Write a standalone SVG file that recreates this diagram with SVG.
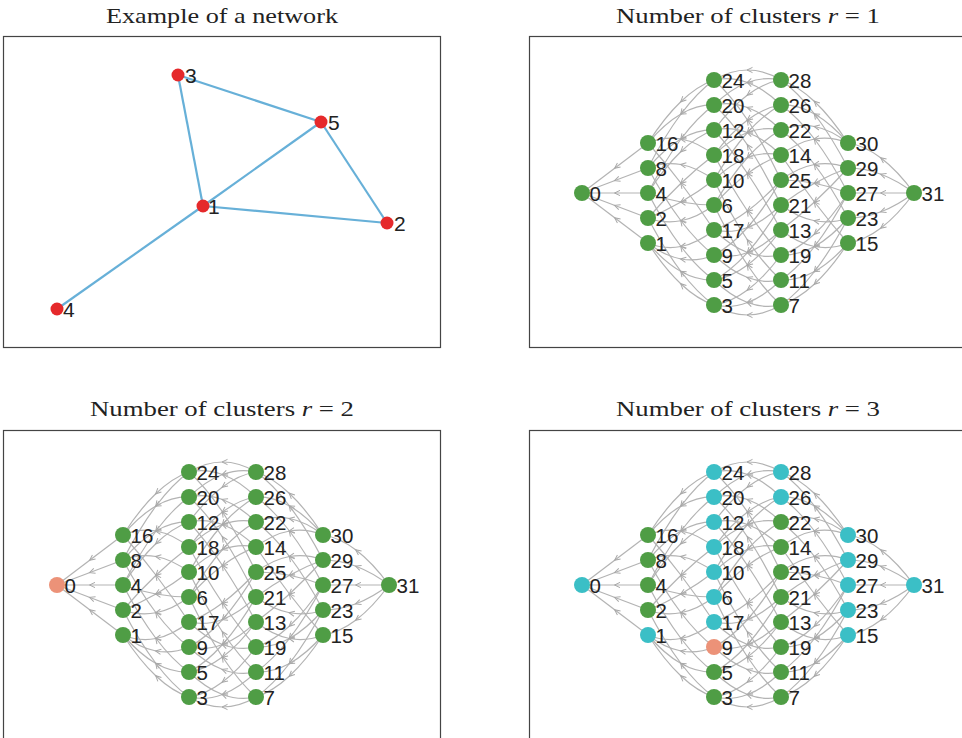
<svg xmlns="http://www.w3.org/2000/svg" xmlns:xlink="http://www.w3.org/1999/xlink" width="962" height="738" viewBox="0 0 962 738">
<style>
.title{font-family:"Liberation Serif","Times New Roman",serif;font-size:22px;fill:#222}
.frame{fill:none;stroke:#444;stroke-width:1.2}
.e{fill:none;stroke:#b3b3b3;stroke-width:1.2;marker-mid:url(#arr)}
.pe{fill:none;stroke:#67b0d8;stroke-width:2.2}
.lbl{font-family:"Liberation Sans",Arial,sans-serif;font-size:20.5px;fill:#222}
.lbl1{font-family:"Liberation Sans",Arial,sans-serif;font-size:21px;fill:#222}
.g{fill:#4f9d45}
.c{fill:#3bbfc6}
.s{fill:#ec9278}
.r{fill:#e5292b}
</style>
<defs>
<marker id="arr" viewBox="-7 -5 10 10" refX="0" refY="0" markerWidth="10" markerHeight="10" markerUnits="userSpaceOnUse" orient="auto">
<path d="M-5,-2.6 L0.5,0 L-5,2.6" fill="none" stroke="#a8a8a8" stroke-width="1"/>
</marker>
<g id="hc">
<path class="e" d="M648,143 L615,168 L582,193"/>
<path class="e" d="M648,168 L615,180.5 L582,193"/>
<path class="e" d="M648,193 L615,193 L582,193"/>
<path class="e" d="M648,218 L615,205.5 L582,193"/>
<path class="e" d="M648,243 L615,218 L582,193"/>
<path class="e" d="M714,80 Q697.5,85.75 681,101.5 T648,143"/>
<path class="e" d="M714,80 Q697.5,92 681,114 T648,168"/>
<path class="e" d="M714,105 Q697.5,104.5 681,114 T648,143"/>
<path class="e" d="M714,105 Q697.5,117 681,139 T648,193"/>
<path class="e" d="M714,130 Q697.5,129.5 681,139 T648,168"/>
<path class="e" d="M714,130 Q697.5,135.75 681,151.5 T648,193"/>
<path class="e" d="M714,155 Q697.5,142 681,139 T648,143"/>
<path class="e" d="M714,155 Q697.5,167.5 681,183.25 T648,218"/>
<path class="e" d="M714,180 Q697.5,167.5 681,164.5 T648,168"/>
<path class="e" d="M714,180 Q697.5,192.5 681,202 T648,218"/>
<path class="e" d="M714,205 Q697.5,205 681,202 T648,193"/>
<path class="e" d="M714,205 Q697.5,217.5 681,220.75 T648,218"/>
<path class="e" d="M714,230 Q697.5,205 681,183.25 T648,143"/>
<path class="e" d="M714,230 Q697.5,243.25 681,246.5 T648,243"/>
<path class="e" d="M714,255 Q697.5,242.5 681,220.75 T648,168"/>
<path class="e" d="M714,255 Q697.5,262 681,259 T648,243"/>
<path class="e" d="M714,280 Q697.5,268.25 681,246.5 T648,193"/>
<path class="e" d="M714,280 Q697.5,280.75 681,271.5 T648,243"/>
<path class="e" d="M714,305 Q697.5,293.25 681,271.5 T648,218"/>
<path class="e" d="M714,305 Q697.5,299.5 681,284 T648,243"/>
<path class="e" d="M781,80 Q764.25,70 747.5,70 T714,80"/>
<path class="e" d="M781,80 Q764.25,76.25 747.5,82.5 T714,105"/>
<path class="e" d="M781,80 Q764.25,82.5 747.5,95 T714,130"/>
<path class="e" d="M781,105 Q764.25,88.75 747.5,82.5 T714,80"/>
<path class="e" d="M781,105 Q764.25,107.5 747.5,120 T714,155"/>
<path class="e" d="M781,105 Q764.25,113.75 747.5,132.5 T714,180"/>
<path class="e" d="M781,130 Q764.25,113.75 747.5,107.5 T714,105"/>
<path class="e" d="M781,130 Q764.25,126.25 747.5,132.5 T714,155"/>
<path class="e" d="M781,130 Q764.25,138.75 747.5,157.5 T714,205"/>
<path class="e" d="M781,155 Q764.25,138.75 747.5,132.5 T714,130"/>
<path class="e" d="M781,155 Q764.25,151.25 747.5,157.5 T714,180"/>
<path class="e" d="M781,155 Q764.25,161 747.5,173.5 T714,205"/>
<path class="e" d="M781,180 Q764.25,145 747.5,120 T714,80"/>
<path class="e" d="M781,180 Q764.25,198.5 747.5,211 T714,230"/>
<path class="e" d="M781,180 Q764.25,208.75 747.5,227.5 T714,255"/>
<path class="e" d="M781,205 Q764.25,170 747.5,145 T714,105"/>
<path class="e" d="M781,205 Q764.25,221.25 747.5,227.5 T714,230"/>
<path class="e" d="M781,205 Q764.25,233.75 747.5,252.5 T714,280"/>
<path class="e" d="M781,230 Q764.25,198.5 747.5,173.5 T714,130"/>
<path class="e" d="M781,230 Q764.25,246.25 747.5,252.5 T714,255"/>
<path class="e" d="M781,230 Q764.25,252.5 747.5,265 T714,280"/>
<path class="e" d="M781,255 Q764.25,236 747.5,211 T714,155"/>
<path class="e" d="M781,255 Q764.25,258.75 747.5,252.5 T714,230"/>
<path class="e" d="M781,255 Q764.25,277.5 747.5,290 T714,305"/>
<path class="e" d="M781,280 Q764.25,265 747.5,240 T714,180"/>
<path class="e" d="M781,280 Q764.25,283.75 747.5,277.5 T714,255"/>
<path class="e" d="M781,280 Q764.25,296.25 747.5,302.5 T714,305"/>
<path class="e" d="M781,305 Q764.25,290 747.5,265 T714,205"/>
<path class="e" d="M781,305 Q764.25,308.75 747.5,302.5 T714,280"/>
<path class="e" d="M781,305 Q764.25,315 747.5,315 T714,305"/>
<path class="e" d="M848,143 Q831.25,117.25 814.5,101.5 T781,80"/>
<path class="e" d="M848,143 Q831.25,123.5 814.5,114 T781,105"/>
<path class="e" d="M848,143 Q831.25,129.75 814.5,126.5 T781,130"/>
<path class="e" d="M848,143 Q831.25,136 814.5,139 T781,155"/>
<path class="e" d="M848,168 Q831.25,136 814.5,114 T781,80"/>
<path class="e" d="M848,168 Q831.25,161.5 814.5,164.5 T781,180"/>
<path class="e" d="M848,168 Q831.25,174 814.5,183.25 T781,205"/>
<path class="e" d="M848,168 Q831.25,186.5 814.5,202 T781,230"/>
<path class="e" d="M848,193 Q831.25,161 814.5,139 T781,105"/>
<path class="e" d="M848,193 Q831.25,186.5 814.5,183.25 T781,180"/>
<path class="e" d="M848,193 Q831.25,218.5 814.5,234 T781,255"/>
<path class="e" d="M848,193 Q831.25,224.75 814.5,246.5 T781,280"/>
<path class="e" d="M848,218 Q831.25,186.5 814.5,164.5 T781,130"/>
<path class="e" d="M848,218 Q831.25,224 814.5,220.75 T781,205"/>
<path class="e" d="M848,218 Q831.25,237.25 814.5,246.5 T781,255"/>
<path class="e" d="M848,218 Q831.25,249.75 814.5,271.5 T781,305"/>
<path class="e" d="M848,243 Q831.25,224 814.5,202 T781,155"/>
<path class="e" d="M848,243 Q831.25,249.75 814.5,246.5 T781,230"/>
<path class="e" d="M848,243 Q831.25,262.25 814.5,271.5 T781,280"/>
<path class="e" d="M848,243 Q831.25,268.5 814.5,284 T781,305"/>
<path class="e" d="M914,193 Q897.5,170.5 881,158 T848,143"/>
<path class="e" d="M914,193 Q897.5,180.5 881,174.25 T848,168"/>
<path class="e" d="M914,193 L881,193 L848,193"/>
<path class="e" d="M914,193 Q897.5,205.5 881,211.75 T848,218"/>
<path class="e" d="M914,193 Q897.5,215.5 881,228 T848,243"/>
</g>
</defs>

<g id="titles">
<text class="title" x="222" y="23" text-anchor="middle" textLength="232" lengthAdjust="spacingAndGlyphs">Example of a network</text>
<text class="title" x="748" y="23" text-anchor="middle" textLength="264" lengthAdjust="spacingAndGlyphs">Number of clusters <tspan font-style="italic">r</tspan> = 1</text>
<text class="title" x="222" y="416" text-anchor="middle" textLength="264" lengthAdjust="spacingAndGlyphs">Number of clusters <tspan font-style="italic">r</tspan> = 2</text>
<text class="title" x="748" y="416" text-anchor="middle" textLength="264" lengthAdjust="spacingAndGlyphs">Number of clusters <tspan font-style="italic">r</tspan> = 3</text>
</g>

<g id="frames">
<rect class="frame" x="3.5" y="36.5" width="437" height="311"/>
<rect class="frame" x="529.5" y="36.5" width="440" height="311"/>
<rect class="frame" x="3.5" y="430.5" width="437" height="320"/>
<rect class="frame" x="529.5" y="430.5" width="440" height="320"/>
</g>

<!-- Panel 1 -->
<g id="p1-connectors">
<line class="pe" x1="178" y1="75" x2="321" y2="122"/>
<line class="pe" x1="178" y1="75" x2="203" y2="206"/>
<line class="pe" x1="203" y1="206" x2="321" y2="122"/>
<line class="pe" x1="321" y1="122" x2="387" y2="223"/>
<line class="pe" x1="203" y1="206" x2="387" y2="223"/>
<line class="pe" x1="203" y1="206" x2="57" y2="309"/>
</g>
<g id="p1-n3"><circle class="r" cx="178" cy="75" r="6.5"/><text class="lbl1" x="185" y="83">3</text></g>
<g id="p1-n5"><circle class="r" cx="321" cy="122" r="6.5"/><text class="lbl1" x="328" y="130">5</text></g>
<g id="p1-n1"><circle class="r" cx="203" cy="206" r="6.5"/><text class="lbl1" x="208" y="214">1</text></g>
<g id="p1-n2"><circle class="r" cx="387" cy="223" r="6.5"/><text class="lbl1" x="394" y="231">2</text></g>
<g id="p1-n4"><circle class="r" cx="57" cy="309" r="6.5"/><text class="lbl1" x="63" y="317">4</text></g>

<!-- Panel 2 -->
<g id="p2-connectors"><use xlink:href="#hc" href="#hc"/></g>
<g id="p2-nodes">
<g id="p2-n0"><circle class="g" cx="582" cy="193" r="8"/><text class="lbl" x="589.5" y="200.5">0</text></g>
<g id="p2-n16"><circle class="g" cx="648" cy="143" r="8"/><text class="lbl" x="655.5" y="150.5">16</text></g>
<g id="p2-n8"><circle class="g" cx="648" cy="168" r="8"/><text class="lbl" x="655.5" y="175.5">8</text></g>
<g id="p2-n4"><circle class="g" cx="648" cy="193" r="8"/><text class="lbl" x="655.5" y="200.5">4</text></g>
<g id="p2-n2"><circle class="g" cx="648" cy="218" r="8"/><text class="lbl" x="655.5" y="225.5">2</text></g>
<g id="p2-n1"><circle class="g" cx="648" cy="243" r="8"/><text class="lbl" x="655.5" y="250.5">1</text></g>
<g id="p2-n24"><circle class="g" cx="714" cy="80" r="8"/><text class="lbl" x="721.5" y="87.5">24</text></g>
<g id="p2-n20"><circle class="g" cx="714" cy="105" r="8"/><text class="lbl" x="721.5" y="112.5">20</text></g>
<g id="p2-n12"><circle class="g" cx="714" cy="130" r="8"/><text class="lbl" x="721.5" y="137.5">12</text></g>
<g id="p2-n18"><circle class="g" cx="714" cy="155" r="8"/><text class="lbl" x="721.5" y="162.5">18</text></g>
<g id="p2-n10"><circle class="g" cx="714" cy="180" r="8"/><text class="lbl" x="721.5" y="187.5">10</text></g>
<g id="p2-n6"><circle class="g" cx="714" cy="205" r="8"/><text class="lbl" x="721.5" y="212.5">6</text></g>
<g id="p2-n17"><circle class="g" cx="714" cy="230" r="8"/><text class="lbl" x="721.5" y="237.5">17</text></g>
<g id="p2-n9"><circle class="g" cx="714" cy="255" r="8"/><text class="lbl" x="721.5" y="262.5">9</text></g>
<g id="p2-n5"><circle class="g" cx="714" cy="280" r="8"/><text class="lbl" x="721.5" y="287.5">5</text></g>
<g id="p2-n3"><circle class="g" cx="714" cy="305" r="8"/><text class="lbl" x="721.5" y="312.5">3</text></g>
<g id="p2-n28"><circle class="g" cx="781" cy="80" r="8"/><text class="lbl" x="788.5" y="87.5">28</text></g>
<g id="p2-n26"><circle class="g" cx="781" cy="105" r="8"/><text class="lbl" x="788.5" y="112.5">26</text></g>
<g id="p2-n22"><circle class="g" cx="781" cy="130" r="8"/><text class="lbl" x="788.5" y="137.5">22</text></g>
<g id="p2-n14"><circle class="g" cx="781" cy="155" r="8"/><text class="lbl" x="788.5" y="162.5">14</text></g>
<g id="p2-n25"><circle class="g" cx="781" cy="180" r="8"/><text class="lbl" x="788.5" y="187.5">25</text></g>
<g id="p2-n21"><circle class="g" cx="781" cy="205" r="8"/><text class="lbl" x="788.5" y="212.5">21</text></g>
<g id="p2-n13"><circle class="g" cx="781" cy="230" r="8"/><text class="lbl" x="788.5" y="237.5">13</text></g>
<g id="p2-n19"><circle class="g" cx="781" cy="255" r="8"/><text class="lbl" x="788.5" y="262.5">19</text></g>
<g id="p2-n11"><circle class="g" cx="781" cy="280" r="8"/><text class="lbl" x="788.5" y="287.5">11</text></g>
<g id="p2-n7"><circle class="g" cx="781" cy="305" r="8"/><text class="lbl" x="788.5" y="312.5">7</text></g>
<g id="p2-n30"><circle class="g" cx="848" cy="143" r="8"/><text class="lbl" x="855.5" y="150.5">30</text></g>
<g id="p2-n29"><circle class="g" cx="848" cy="168" r="8"/><text class="lbl" x="855.5" y="175.5">29</text></g>
<g id="p2-n27"><circle class="g" cx="848" cy="193" r="8"/><text class="lbl" x="855.5" y="200.5">27</text></g>
<g id="p2-n23"><circle class="g" cx="848" cy="218" r="8"/><text class="lbl" x="855.5" y="225.5">23</text></g>
<g id="p2-n15"><circle class="g" cx="848" cy="243" r="8"/><text class="lbl" x="855.5" y="250.5">15</text></g>
<g id="p2-n31"><circle class="g" cx="914" cy="193" r="8"/><text class="lbl" x="921.5" y="200.5">31</text></g>
</g>

<!-- Panel 3 -->
<g id="p3-connectors" transform="translate(-525,392)"><use xlink:href="#hc" href="#hc"/></g>
<g id="p3-nodes" transform="translate(-525,392)">
<g id="p3-n0"><circle class="s" cx="582" cy="193" r="8"/><text class="lbl" x="589.5" y="200.5">0</text></g>
<g id="p3-n16"><circle class="g" cx="648" cy="143" r="8"/><text class="lbl" x="655.5" y="150.5">16</text></g>
<g id="p3-n8"><circle class="g" cx="648" cy="168" r="8"/><text class="lbl" x="655.5" y="175.5">8</text></g>
<g id="p3-n4"><circle class="g" cx="648" cy="193" r="8"/><text class="lbl" x="655.5" y="200.5">4</text></g>
<g id="p3-n2"><circle class="g" cx="648" cy="218" r="8"/><text class="lbl" x="655.5" y="225.5">2</text></g>
<g id="p3-n1"><circle class="g" cx="648" cy="243" r="8"/><text class="lbl" x="655.5" y="250.5">1</text></g>
<g id="p3-n24"><circle class="g" cx="714" cy="80" r="8"/><text class="lbl" x="721.5" y="87.5">24</text></g>
<g id="p3-n20"><circle class="g" cx="714" cy="105" r="8"/><text class="lbl" x="721.5" y="112.5">20</text></g>
<g id="p3-n12"><circle class="g" cx="714" cy="130" r="8"/><text class="lbl" x="721.5" y="137.5">12</text></g>
<g id="p3-n18"><circle class="g" cx="714" cy="155" r="8"/><text class="lbl" x="721.5" y="162.5">18</text></g>
<g id="p3-n10"><circle class="g" cx="714" cy="180" r="8"/><text class="lbl" x="721.5" y="187.5">10</text></g>
<g id="p3-n6"><circle class="g" cx="714" cy="205" r="8"/><text class="lbl" x="721.5" y="212.5">6</text></g>
<g id="p3-n17"><circle class="g" cx="714" cy="230" r="8"/><text class="lbl" x="721.5" y="237.5">17</text></g>
<g id="p3-n9"><circle class="g" cx="714" cy="255" r="8"/><text class="lbl" x="721.5" y="262.5">9</text></g>
<g id="p3-n5"><circle class="g" cx="714" cy="280" r="8"/><text class="lbl" x="721.5" y="287.5">5</text></g>
<g id="p3-n3"><circle class="g" cx="714" cy="305" r="8"/><text class="lbl" x="721.5" y="312.5">3</text></g>
<g id="p3-n28"><circle class="g" cx="781" cy="80" r="8"/><text class="lbl" x="788.5" y="87.5">28</text></g>
<g id="p3-n26"><circle class="g" cx="781" cy="105" r="8"/><text class="lbl" x="788.5" y="112.5">26</text></g>
<g id="p3-n22"><circle class="g" cx="781" cy="130" r="8"/><text class="lbl" x="788.5" y="137.5">22</text></g>
<g id="p3-n14"><circle class="g" cx="781" cy="155" r="8"/><text class="lbl" x="788.5" y="162.5">14</text></g>
<g id="p3-n25"><circle class="g" cx="781" cy="180" r="8"/><text class="lbl" x="788.5" y="187.5">25</text></g>
<g id="p3-n21"><circle class="g" cx="781" cy="205" r="8"/><text class="lbl" x="788.5" y="212.5">21</text></g>
<g id="p3-n13"><circle class="g" cx="781" cy="230" r="8"/><text class="lbl" x="788.5" y="237.5">13</text></g>
<g id="p3-n19"><circle class="g" cx="781" cy="255" r="8"/><text class="lbl" x="788.5" y="262.5">19</text></g>
<g id="p3-n11"><circle class="g" cx="781" cy="280" r="8"/><text class="lbl" x="788.5" y="287.5">11</text></g>
<g id="p3-n7"><circle class="g" cx="781" cy="305" r="8"/><text class="lbl" x="788.5" y="312.5">7</text></g>
<g id="p3-n30"><circle class="g" cx="848" cy="143" r="8"/><text class="lbl" x="855.5" y="150.5">30</text></g>
<g id="p3-n29"><circle class="g" cx="848" cy="168" r="8"/><text class="lbl" x="855.5" y="175.5">29</text></g>
<g id="p3-n27"><circle class="g" cx="848" cy="193" r="8"/><text class="lbl" x="855.5" y="200.5">27</text></g>
<g id="p3-n23"><circle class="g" cx="848" cy="218" r="8"/><text class="lbl" x="855.5" y="225.5">23</text></g>
<g id="p3-n15"><circle class="g" cx="848" cy="243" r="8"/><text class="lbl" x="855.5" y="250.5">15</text></g>
<g id="p3-n31"><circle class="g" cx="914" cy="193" r="8"/><text class="lbl" x="921.5" y="200.5">31</text></g>
</g>

<!-- Panel 4 -->
<g id="p4-connectors" transform="translate(0,392)"><use xlink:href="#hc" href="#hc"/></g>
<g id="p4-nodes" transform="translate(0,392)">
<g id="p4-n0"><circle class="c" cx="582" cy="193" r="8"/><text class="lbl" x="589.5" y="200.5">0</text></g>
<g id="p4-n16"><circle class="g" cx="648" cy="143" r="8"/><text class="lbl" x="655.5" y="150.5">16</text></g>
<g id="p4-n8"><circle class="g" cx="648" cy="168" r="8"/><text class="lbl" x="655.5" y="175.5">8</text></g>
<g id="p4-n4"><circle class="g" cx="648" cy="193" r="8"/><text class="lbl" x="655.5" y="200.5">4</text></g>
<g id="p4-n2"><circle class="g" cx="648" cy="218" r="8"/><text class="lbl" x="655.5" y="225.5">2</text></g>
<g id="p4-n1"><circle class="c" cx="648" cy="243" r="8"/><text class="lbl" x="655.5" y="250.5">1</text></g>
<g id="p4-n24"><circle class="c" cx="714" cy="80" r="8"/><text class="lbl" x="721.5" y="87.5">24</text></g>
<g id="p4-n20"><circle class="c" cx="714" cy="105" r="8"/><text class="lbl" x="721.5" y="112.5">20</text></g>
<g id="p4-n12"><circle class="c" cx="714" cy="130" r="8"/><text class="lbl" x="721.5" y="137.5">12</text></g>
<g id="p4-n18"><circle class="c" cx="714" cy="155" r="8"/><text class="lbl" x="721.5" y="162.5">18</text></g>
<g id="p4-n10"><circle class="c" cx="714" cy="180" r="8"/><text class="lbl" x="721.5" y="187.5">10</text></g>
<g id="p4-n6"><circle class="c" cx="714" cy="205" r="8"/><text class="lbl" x="721.5" y="212.5">6</text></g>
<g id="p4-n17"><circle class="c" cx="714" cy="230" r="8"/><text class="lbl" x="721.5" y="237.5">17</text></g>
<g id="p4-n9"><circle class="s" cx="714" cy="255" r="8"/><text class="lbl" x="721.5" y="262.5">9</text></g>
<g id="p4-n5"><circle class="g" cx="714" cy="280" r="8"/><text class="lbl" x="721.5" y="287.5">5</text></g>
<g id="p4-n3"><circle class="g" cx="714" cy="305" r="8"/><text class="lbl" x="721.5" y="312.5">3</text></g>
<g id="p4-n28"><circle class="c" cx="781" cy="80" r="8"/><text class="lbl" x="788.5" y="87.5">28</text></g>
<g id="p4-n26"><circle class="c" cx="781" cy="105" r="8"/><text class="lbl" x="788.5" y="112.5">26</text></g>
<g id="p4-n22"><circle class="g" cx="781" cy="130" r="8"/><text class="lbl" x="788.5" y="137.5">22</text></g>
<g id="p4-n14"><circle class="g" cx="781" cy="155" r="8"/><text class="lbl" x="788.5" y="162.5">14</text></g>
<g id="p4-n25"><circle class="g" cx="781" cy="180" r="8"/><text class="lbl" x="788.5" y="187.5">25</text></g>
<g id="p4-n21"><circle class="g" cx="781" cy="205" r="8"/><text class="lbl" x="788.5" y="212.5">21</text></g>
<g id="p4-n13"><circle class="g" cx="781" cy="230" r="8"/><text class="lbl" x="788.5" y="237.5">13</text></g>
<g id="p4-n19"><circle class="g" cx="781" cy="255" r="8"/><text class="lbl" x="788.5" y="262.5">19</text></g>
<g id="p4-n11"><circle class="g" cx="781" cy="280" r="8"/><text class="lbl" x="788.5" y="287.5">11</text></g>
<g id="p4-n7"><circle class="g" cx="781" cy="305" r="8"/><text class="lbl" x="788.5" y="312.5">7</text></g>
<g id="p4-n30"><circle class="c" cx="848" cy="143" r="8"/><text class="lbl" x="855.5" y="150.5">30</text></g>
<g id="p4-n29"><circle class="c" cx="848" cy="168" r="8"/><text class="lbl" x="855.5" y="175.5">29</text></g>
<g id="p4-n27"><circle class="c" cx="848" cy="193" r="8"/><text class="lbl" x="855.5" y="200.5">27</text></g>
<g id="p4-n23"><circle class="c" cx="848" cy="218" r="8"/><text class="lbl" x="855.5" y="225.5">23</text></g>
<g id="p4-n15"><circle class="c" cx="848" cy="243" r="8"/><text class="lbl" x="855.5" y="250.5">15</text></g>
<g id="p4-n31"><circle class="c" cx="914" cy="193" r="8"/><text class="lbl" x="921.5" y="200.5">31</text></g>
</g>
</svg>
